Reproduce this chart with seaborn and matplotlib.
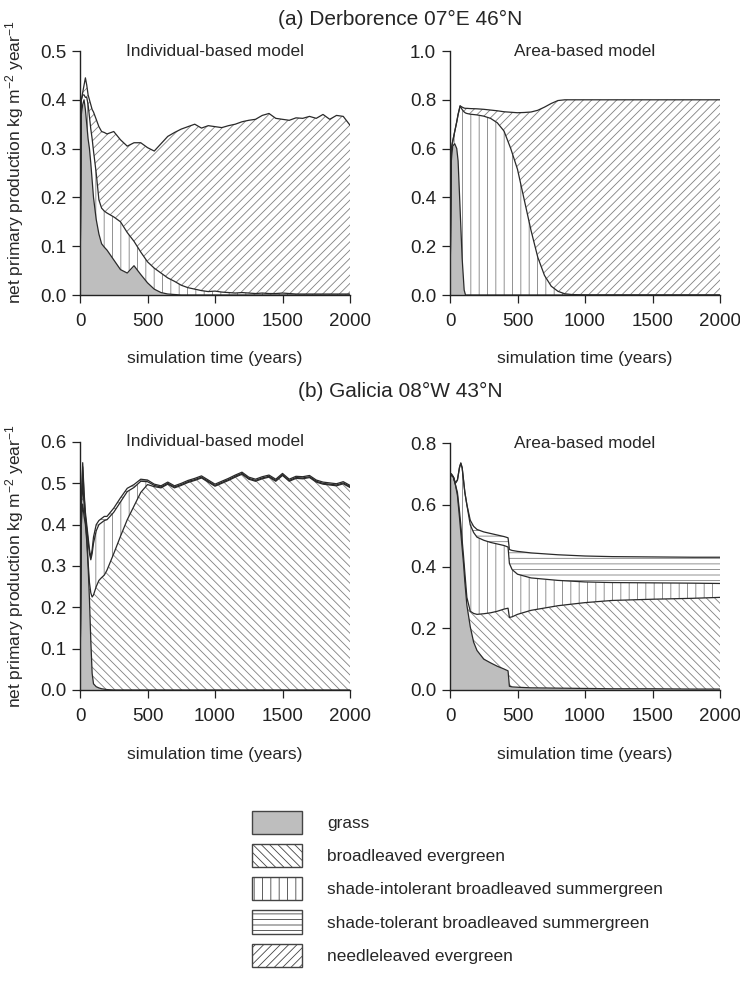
import numpy as np
import matplotlib
matplotlib.use("Agg")
import matplotlib.pyplot as plt
from matplotlib.patches import Patch
from matplotlib.ticker import FormatStrFormatter
import seaborn as sns

# ---------------- data (cumulative NPP boundaries, kg m-2 year-1) ----------------
ibm_years = [0, 10, 20, 30, 40, 50, 60, 70, 80, 90, 100, 120, 140, 160, 180, 200,
             250, 300, 350, 400, 450, 500, 550, 600, 650, 700, 750, 800, 850, 900, 950, 1000,
             1050, 1100, 1150, 1200, 1250, 1300, 1350, 1400, 1450, 1500,
             1550, 1600, 1650, 1700, 1750, 1800, 1850, 1900, 1950, 2000]

# (a) Derborence, individual-based model
derb_ibm_grass = [0, 0.37, 0.39, 0.40, 0.38, 0.35, 0.32, 0.30, 0.27, 0.235, 0.20, 0.155, 0.125, 0.105, 0.098, 0.092,
                  0.072, 0.052, 0.045, 0.060, 0.042, 0.025, 0.012, 0.005, 0.002, 0.001, 0, 0, 0, 0, 0, 0,
                  0, 0, 0, 0, 0, 0, 0, 0, 0, 0,
                  0, 0, 0, 0, 0, 0, 0, 0, 0, 0]
derb_ibm_intolerant = [0, 0.40, 0.41, 0.41, 0.405, 0.405, 0.39, 0.365, 0.34, 0.32, 0.295, 0.25, 0.195, 0.178, 0.172, 0.168,
                       0.160, 0.150, 0.128, 0.110, 0.088, 0.068, 0.055, 0.045, 0.035, 0.028, 0.020, 0.015, 0.012, 0.009, 0.007, 0.008,
                       0.006, 0.005, 0.004, 0.005, 0.004, 0.003, 0.004, 0.003, 0.003, 0.004,
                       0.003, 0.002, 0.002, 0.002, 0.002, 0.002, 0.002, 0.002, 0.002, 0.002]
derb_ibm_total = [0, 0.40, 0.415, 0.43, 0.445, 0.43, 0.41, 0.40, 0.39, 0.38, 0.375, 0.36, 0.345, 0.335, 0.333, 0.33,
                  0.335, 0.318, 0.305, 0.312, 0.312, 0.302, 0.295, 0.31, 0.325, 0.333, 0.34, 0.345, 0.35, 0.342, 0.347, 0.345,
                  0.343, 0.347, 0.35, 0.355, 0.358, 0.36, 0.368, 0.372, 0.362, 0.36,
                  0.358, 0.363, 0.362, 0.366, 0.362, 0.37, 0.36, 0.368, 0.366, 0.348]

# (a) Derborence, area-based model
derb_abm_years = [0, 10, 20, 35, 50, 60, 75, 90, 105, 115, 125, 150, 200, 250, 300, 350, 400, 450, 500,
                  550, 600, 650, 700, 750, 800, 850, 900, 1000, 1500, 2000]
derb_abm_grass = [0, 0.55, 0.61, 0.62, 0.60, 0.55, 0.35, 0.15, 0.02, 0, 0, 0, 0, 0, 0, 0, 0, 0, 0,
                  0, 0, 0, 0, 0, 0, 0, 0, 0, 0, 0]
derb_abm_intolerant = [0, 0.60, 0.63, 0.67, 0.71, 0.74, 0.775, 0.76, 0.75, 0.746, 0.744, 0.741, 0.738, 0.733, 0.724,
                       0.706, 0.672, 0.60, 0.515, 0.39, 0.265, 0.155, 0.08, 0.036, 0.015, 0.005, 0.002, 0, 0, 0]
derb_abm_total = [0, 0.60, 0.63, 0.67, 0.71, 0.74, 0.775, 0.77, 0.766, 0.765, 0.765, 0.764, 0.763, 0.761, 0.758,
                  0.755, 0.751, 0.749, 0.747, 0.748, 0.750, 0.757, 0.770, 0.785, 0.797, 0.80, 0.80, 0.80, 0.80, 0.80]

# (b) Galicia, individual-based model
gal_ibm_grass = [0, 0.40, 0.45, 0.42, 0.40, 0.36, 0.30, 0.22, 0.12, 0.04, 0.015, 0.008, 0.005, 0.003, 0.002, 0.001,
                 0, 0, 0, 0, 0, 0, 0, 0, 0, 0, 0, 0, 0, 0, 0, 0,
                 0, 0, 0, 0, 0, 0, 0, 0, 0, 0,
                 0, 0, 0, 0, 0, 0, 0, 0, 0, 0]
gal_ibm_broadleaf = [0, 0.44, 0.50, 0.45, 0.41, 0.37, 0.31, 0.26, 0.235, 0.225, 0.23, 0.25, 0.265, 0.272, 0.278, 0.29,
                     0.33, 0.372, 0.412, 0.445, 0.478, 0.497, 0.492, 0.489, 0.498, 0.489, 0.495, 0.502, 0.507, 0.513, 0.503, 0.493,
                     0.50, 0.507, 0.515, 0.522, 0.51, 0.505, 0.511, 0.515, 0.505, 0.519,
                     0.505, 0.512, 0.511, 0.514, 0.503, 0.498, 0.496, 0.494, 0.499, 0.49]
gal_ibm_intolerant = [0, 0.45, 0.54, 0.47, 0.42, 0.39, 0.36, 0.33, 0.315, 0.33, 0.355, 0.385, 0.40, 0.405, 0.41, 0.412,
                      0.43, 0.455, 0.48, 0.49, 0.505, 0.504, 0.495, 0.491, 0.50, 0.491, 0.497, 0.504, 0.509, 0.515, 0.505, 0.495,
                      0.502, 0.509, 0.517, 0.524, 0.512, 0.507, 0.513, 0.517, 0.507, 0.521,
                      0.507, 0.514, 0.513, 0.516, 0.505, 0.50, 0.498, 0.496, 0.501, 0.492]
gal_ibm_total = [0, 0.46, 0.55, 0.48, 0.43, 0.40, 0.37, 0.34, 0.32, 0.34, 0.37, 0.40, 0.41, 0.415, 0.42, 0.42,
                 0.44, 0.465, 0.488, 0.497, 0.51, 0.508, 0.498, 0.494, 0.503, 0.494, 0.50, 0.507, 0.512, 0.518, 0.508, 0.498,
                 0.505, 0.512, 0.52, 0.527, 0.515, 0.51, 0.516, 0.52, 0.51, 0.524,
                 0.51, 0.517, 0.516, 0.519, 0.508, 0.503, 0.501, 0.499, 0.504, 0.495]

# (b) Galicia, area-based model
gal_abm_years = [0, 10, 25, 40, 55, 70, 80, 90, 100, 110, 125, 150, 175, 200, 250, 300, 350, 400, 430, 440,
                 460, 500, 600, 800, 1000, 1200, 1500, 1800, 2000]
gal_abm_grass = [0.70, 0.695, 0.69, 0.665, 0.63, 0.56, 0.51, 0.46, 0.41, 0.35, 0.275, 0.205, 0.155, 0.128, 0.10,
                 0.088, 0.077, 0.068, 0.062, 0.012, 0.010, 0.009, 0.007, 0.006, 0.005, 0.004, 0.004, 0.003, 0.003]
gal_abm_broadleaf = [0.70, 0.695, 0.69, 0.665, 0.64, 0.58, 0.535, 0.485, 0.435, 0.38, 0.30, 0.255, 0.248, 0.245, 0.247,
                     0.25, 0.255, 0.262, 0.265, 0.235, 0.237, 0.245, 0.258, 0.273, 0.283, 0.29, 0.294, 0.297, 0.30]
gal_abm_intolerant = [0.70, 0.70, 0.69, 0.67, 0.68, 0.72, 0.735, 0.72, 0.68, 0.64, 0.60, 0.535, 0.51, 0.495, 0.485,
                      0.478, 0.473, 0.468, 0.463, 0.41, 0.39, 0.375, 0.363, 0.355, 0.35, 0.348, 0.347, 0.346, 0.345]
gal_abm_total = [0.70, 0.70, 0.69, 0.67, 0.68, 0.72, 0.735, 0.72, 0.68, 0.64, 0.60, 0.55, 0.53, 0.52, 0.512,
                 0.507, 0.502, 0.497, 0.493, 0.455, 0.452, 0.449, 0.444, 0.438, 0.434, 0.432, 0.431, 0.43, 0.43]

pft_labels = ["grass", "broadleaved evergreen", "shade-intolerant broadleaved summergreen",
              "shade-tolerant broadleaved summergreen", "needleleaved evergreen"]
x_ticks = [0, 500, 1000, 1500, 2000]
titles = ["(a) Derborence 07\u00b0E 46\u00b0N", "(b) Galicia 08\u00b0W 43\u00b0N"]
model_names = ["Individual-based model", "Area-based model"]

# ---------------- style ----------------
sns.set_style("ticks")
plt.rcParams['font.family'] = ['Liberation Sans', 'DejaVu Sans']
plt.rcParams['mathtext.fontset'] = 'custom'
plt.rcParams['mathtext.rm'] = 'Liberation Sans'
plt.rcParams['mathtext.it'] = 'Liberation Sans:italic'
plt.rcParams['mathtext.default'] = 'regular'
plt.rcParams['hatch.linewidth'] = 0.6

HATCH_COLOR = '#808080'
LINE_COLOR = '#2a2a2a'
STYLES = {
    "grass": dict(face='#bebebe', hatch=None),
    "broad": dict(face='white', hatch='\\\\\\\\'),
    "intol": dict(face='white', hatch='||'),
    "tol": dict(face='white', hatch='---'),
    "needle": dict(face='white', hatch='////'),
}

W, H = 740, 998
fig = plt.figure(figsize=(W / 100, H / 100), dpi=100)


def add_axes(left, right, top, bottom):
    return fig.add_axes([left / W, 1 - bottom / H, (right - left) / W, (bottom - top) / H])


def draw_panel(ax, years, layers, ymax, ystep, model):
    x = np.asarray(years, dtype=float)
    lower = np.zeros(len(x))
    for key, top in layers:
        top = np.asarray(top, dtype=float)
        st = STYLES[key]
        ax.fill_between(x, lower, top, facecolor=st['face'], edgecolor=HATCH_COLOR,
                        hatch=st['hatch'], linewidth=0, zorder=1)
        lower = top
    for key, top in layers:
        sns.lineplot(x=x, y=np.asarray(top, dtype=float), ax=ax, color=LINE_COLOR, lw=0.9,
                     estimator=None, sort=False, legend=False, zorder=3)
    ax.set_xlim(0, 2000)
    ax.set_ylim(0, ymax)
    ax.set_xticks(x_ticks)
    ax.set_yticks(np.round(np.arange(0, ymax + 1e-9, ystep), 2))
    ax.yaxis.set_major_formatter(FormatStrFormatter('%.1f'))
    ax.xaxis.set_major_formatter(FormatStrFormatter('%d'))
    sns.despine(ax=ax)
    for s in ('left', 'bottom'):
        ax.spines[s].set_color('#222222')
        ax.spines[s].set_linewidth(1.0)
    ax.tick_params(axis='both', direction='out', length=6, width=0.9, colors='#222222',
                   labelsize=13.5)
    ax.tick_params(axis='x', pad=7)
    ax.tick_params(axis='y', pad=4)
    ax.set_xlabel("simulation time (years)", fontsize=12.5)
    ax.xaxis.label.set_va('center')
    h_px = ax.get_position().height * H
    ax.xaxis.set_label_coords(0.5, -64 / h_px)
    ax.set_ylabel("")
    ax.text(0.5, 1.0, model, transform=ax.transAxes, ha='center', va='center', fontsize=12.4)


# panel (a)
ax1 = add_axes(80, 350, 51, 295)
draw_panel(ax1, ibm_years, [("grass", derb_ibm_grass), ("intol", derb_ibm_intolerant),
                            ("needle", derb_ibm_total)], 0.5, 0.1, model_names[0])
ax2 = add_axes(450, 720, 51, 295)
draw_panel(ax2, derb_abm_years, [("grass", derb_abm_grass), ("intol", derb_abm_intolerant),
                                 ("needle", derb_abm_total)], 1.0, 0.2, model_names[1])
# panel (b)
ax3 = add_axes(80, 350, 442, 690)
draw_panel(ax3, ibm_years, [("grass", gal_ibm_grass), ("broad", gal_ibm_broadleaf),
                            ("intol", gal_ibm_intolerant), ("tol", gal_ibm_total)], 0.6, 0.1, model_names[0])
ax4 = add_axes(450, 720, 443, 690)
draw_panel(ax4, gal_abm_years, [("grass", gal_abm_grass), ("broad", gal_abm_broadleaf),
                                ("intol", gal_abm_intolerant), ("tol", gal_abm_total)], 0.8, 0.2, model_names[1])

ylab = "net primary production kg m$^{-2}$ year$^{-1}$"
fig.text(15 / W, 1 - 162 / H, ylab, rotation=90, ha='center', va='center', fontsize=12.5)
fig.text(15 / W, 1 - 566 / H, ylab, rotation=90, ha='center', va='center', fontsize=12.5)

fig.text(400 / W, 1 - 19 / H, titles[0], ha='center', va='center', fontsize=15)
fig.text(400 / W, 1 - 391 / H, titles[1], ha='center', va='center', fontsize=15)

# legend
handles = [
    Patch(facecolor='#bebebe', edgecolor='#444444', linewidth=1.0),
    Patch(facecolor='white', edgecolor='#444444', hatch='\\\\\\\\', linewidth=1.0),
    Patch(facecolor='white', edgecolor='#444444', hatch='||', linewidth=1.0),
    Patch(facecolor='white', edgecolor='#444444', hatch='---', linewidth=1.0),
    Patch(facecolor='white', edgecolor='#444444', hatch='////', linewidth=1.0),
]
fig.legend(handles, pft_labels, loc='upper left', bbox_to_anchor=(252 / W, 1 - 811 / H),
           frameon=False, fontsize=12.4, handlelength=2.9, handleheight=1.69,
           labelspacing=0.58, handletextpad=1.45, borderpad=0, borderaxespad=0)

fig.savefig("out.png", dpi=100)
